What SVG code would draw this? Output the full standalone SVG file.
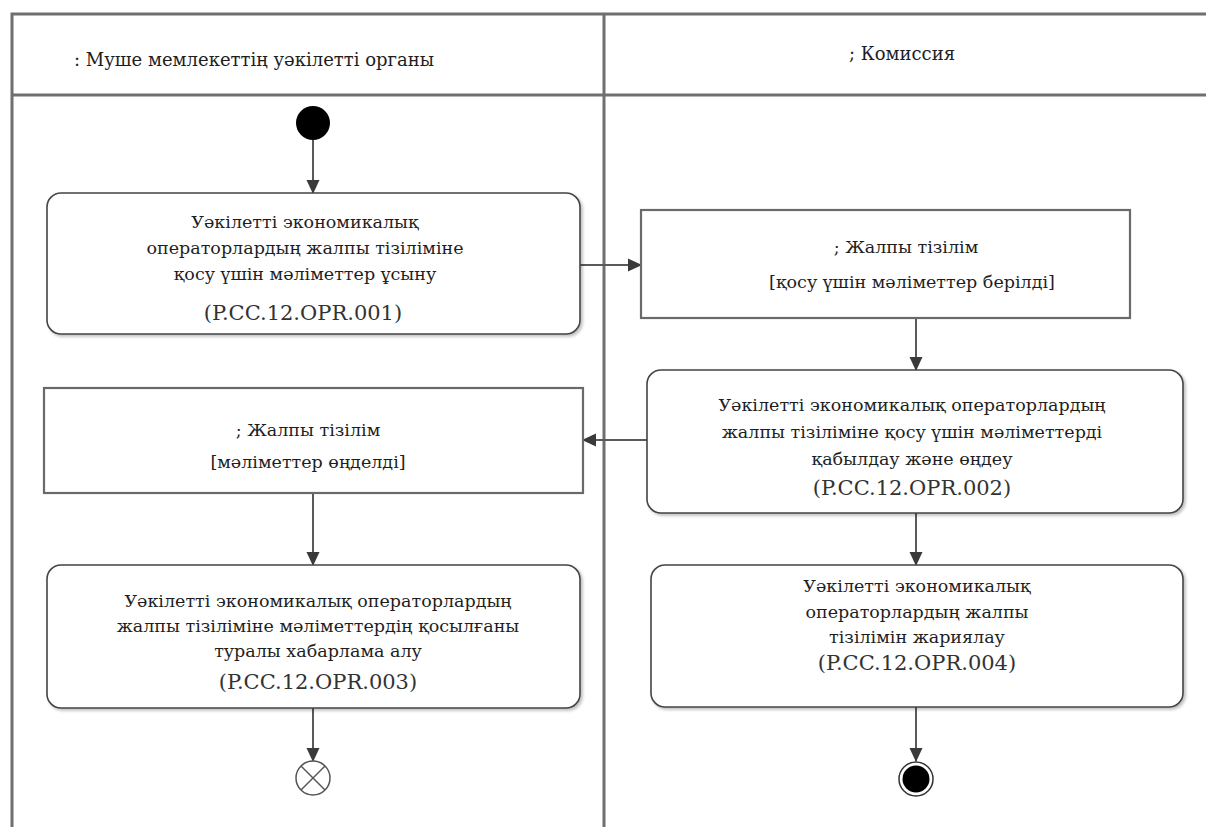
<svg xmlns="http://www.w3.org/2000/svg" width="1206" height="827" viewBox="0 0 1206 827" font-family="DejaVu Serif, serif">
<defs>
<marker id="ah" markerWidth="14" markerHeight="14" refX="13" refY="6.5" orient="auto" markerUnits="userSpaceOnUse" viewBox="0 0 14 13">
<path d="M0,0 L14,6.5 L0,13 z" fill="#3a3a3a"/>
</marker>
<filter id="sh" x="-5%" y="-5%" width="110%" height="115%">
<feDropShadow dx="2" dy="2" stdDeviation="1.5" flood-color="#000" flood-opacity="0.25"/>
</filter>
</defs>
<style>
.lane{stroke:#6f6f6f;stroke-width:3;fill:none}
.act{fill:#fff;stroke:#444;stroke-width:1.6;filter:url(#sh)}
.obj{fill:#fff;stroke:#6a6a6a;stroke-width:2.2}
.t{font-size:17.5px;fill:#1e1e1e;text-anchor:middle}
.c{font-size:21px;fill:#333;text-anchor:middle}
.h{font-size:18px;fill:#1e1e1e}
.e{stroke:#5a5a5a;stroke-width:2;fill:none;marker-end:url(#ah)}
</style>
<rect width="1206" height="827" fill="#fff"/>
<g id="lanes">
<path class="lane" d="M12,827 L12,14 L1206,14 M12,95 L1206,95 M604,14 L604,827"/>
<text class="h" x="74" y="66">: Муше мемлекеттің уәкілетті органы</text>
<text class="h" x="902" y="60" text-anchor="middle">; Комиссия</text>
</g>
<g id="connectors">
<line class="e" x1="313" y1="140" x2="313" y2="193"/>
<line class="e" x1="580" y1="265" x2="641" y2="265"/>
<line class="e" x1="916" y1="318" x2="916" y2="370"/>
<line class="e" x1="647" y1="440" x2="583" y2="440"/>
<line class="e" x1="313" y1="493" x2="313" y2="565"/>
<line class="e" x1="916" y1="513" x2="916" y2="565"/>
<line class="e" x1="313" y1="708" x2="313" y2="761"/>
<line class="e" x1="916" y1="707" x2="916" y2="761"/>
</g>
<g id="start">
<circle cx="313" cy="123" r="17" fill="#000"/>
</g>
<g id="a1">
<rect class="act" x="47" y="193" width="533" height="141" rx="14"/>
<text class="t" x="305" y="228">Уәкілетті экономикалық</text>
<text class="t" x="305" y="254">операторлардың жалпы тізіліміне</text>
<text class="t" x="305" y="280">қосу үшін мәліметтер ұсыну</text>
<text class="c" x="303" y="320">(P.CC.12.OPR.001)</text>
</g>
<g id="o1">
<rect class="obj" x="641" y="210" width="489" height="108"/>
<text class="t" x="906" y="253">; Жалпы тізілім</text>
<text class="t" x="912" y="288">[қосу үшін мәліметтер берілді]</text>
</g>
<g id="a2">
<rect class="act" x="647" y="370" width="536" height="143" rx="14"/>
<text class="t" x="912" y="411">Уәкілетті экономикалық операторлардың</text>
<text class="t" x="912" y="438">жалпы тізіліміне қосу үшін мәліметтерді</text>
<text class="t" x="912" y="465">қабылдау және өңдеу</text>
<text class="c" x="912" y="495">(P.CC.12.OPR.002)</text>
</g>
<g id="o2">
<rect class="obj" x="44" y="388" width="539" height="105"/>
<text class="t" x="308" y="436">;  Жалпы тізілім</text>
<text class="t" x="308" y="468">[мәліметтер өңделді]</text>
</g>
<g id="a3">
<rect class="act" x="47" y="565" width="533" height="143" rx="14"/>
<text class="t" x="318" y="607">Уәкілетті экономикалық операторлардың</text>
<text class="t" x="318" y="632">жалпы тізіліміне мәліметтердің қосылғаны</text>
<text class="t" x="318" y="657">туралы хабарлама алу</text>
<text class="c" x="318" y="689">(P.CC.12.OPR.003)</text>
</g>
<g id="a4">
<rect class="act" x="651" y="565" width="532" height="142" rx="14"/>
<text class="t" x="917" y="592">Уәкілетті экономикалық</text>
<text class="t" x="917" y="618">операторлардың жалпы</text>
<text class="t" x="917" y="643">тізілімін жариялау</text>
<text class="c" x="917" y="670">(P.CC.12.OPR.004)</text>
</g>
<g id="flowfinal">
<circle cx="313" cy="778" r="17" fill="#fff" stroke="#555" stroke-width="1.5"/>
<line x1="301" y1="766" x2="325" y2="790" stroke="#555" stroke-width="1.5"/>
<line x1="325" y1="766" x2="301" y2="790" stroke="#555" stroke-width="1.5"/>
</g>
<g id="final">
<circle cx="916" cy="779" r="17" fill="#fff" stroke="#333" stroke-width="1.5"/>
<circle cx="916" cy="779" r="13.5" fill="#000"/>
</g>
</svg>
